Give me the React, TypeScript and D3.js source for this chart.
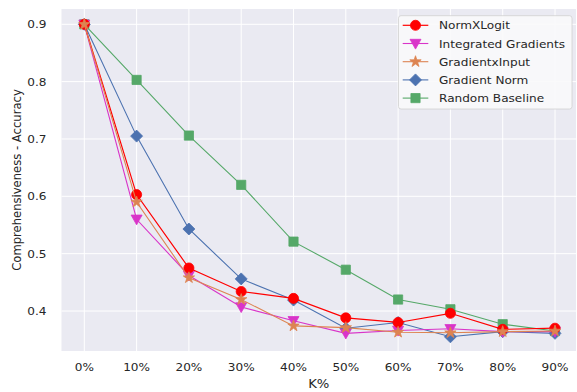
import React from "react";
import * as d3 from "d3";

const kLabels = ["0%", "10%", "20%", "30%", "40%", "50%", "60%", "70%", "80%", "90%"];
const yTicks = [0.4, 0.5, 0.6, 0.7, 0.8, 0.9];

const normXLogit = [0.9, 0.603, 0.475, 0.434, 0.422, 0.388, 0.38, 0.396, 0.368, 0.37];
const integratedGradients = [0.9, 0.56, 0.462, 0.407, 0.383, 0.361, 0.366, 0.369, 0.364, 0.364];
const gradientXInput = [0.9, 0.59, 0.458, 0.42, 0.374, 0.371, 0.363, 0.362, 0.364, 0.365];
const gradientNorm = [0.9, 0.705, 0.543, 0.456, 0.419, 0.37, 0.38, 0.355, 0.364, 0.361];
const randomBaseline = [0.9, 0.803, 0.706, 0.62, 0.521, 0.472, 0.42, 0.403, 0.377, 0.365];

type Marker = "circle" | "triDown" | "star" | "diamond" | "square";
const series: { name: string; values: number[]; color: string; marker: Marker; lw: number }[] = [
  { name: "NormXLogit", values: normXLogit, color: "#ff0000", marker: "circle", lw: 1.2 },
  { name: "Integrated Gradients", values: integratedGradients, color: "#d935c9", marker: "triDown", lw: 1.1 },
  { name: "GradientxInput", values: gradientXInput, color: "#dd8452", marker: "star", lw: 1.1 },
  { name: "Gradient Norm", values: gradientNorm, color: "#4c72b0", marker: "diamond", lw: 1.1 },
  { name: "Random Baseline", values: randomBaseline, color: "#55a868", marker: "square", lw: 1.1 },
];
const drawOrder = [4, 3, 1, 0, 2];

const W = 577, H = 392;
const plot = { left: 61.5, right: 576, top: 9, bottom: 351 };
const x = d3.scaleLinear().domain([0, 9]).range([84.3, 555]);
const y = d3.scaleLinear().domain([0.4, 0.9]).range([311, 24.3]);

function markerPath(m: Marker): string {
  switch (m) {
    case "circle":
      return d3.symbol(d3.symbolCircle, 80)()!;
    case "square":
      return "M-4.6,-4.6L4.6,-4.6L4.6,4.6L-4.6,4.6Z";
    case "diamond":
      return "M0,-6L6,0L0,6L-6,0Z";
    case "triDown":
      return "M-5.5,-4.2L5.5,-4.2L0,5.6Z";
    case "star":
      return d3.symbol(d3.symbolStar, 40)()!;
  }
}

const font = "DejaVu Sans, sans-serif";
const textColor = "#262626";
const SX = 1.1;

function HText(props: { x: number; y: number; size: number; anchor?: "start" | "middle" | "end"; children: React.ReactNode }) {
  return (
    <g transform={`translate(${props.x},${props.y}) scale(${SX},1)`}>
      <text x={0} y={0} textAnchor={props.anchor || "start"} fontFamily={font} fontSize={props.size} fill={textColor}>
        {props.children}
      </text>
    </g>
  );
}

export default function App() {
  const line = d3.line<number>().x((_, i) => x(i)).y((v) => y(v));
  return (
    <svg width={W} height={H} style={{ position: "absolute", left: 0, top: 0 }}>
      <rect x={0} y={0} width={W} height={H} fill="#ffffff" />
      <rect x={plot.left} y={plot.top} width={plot.right - plot.left} height={plot.bottom - plot.top} fill="#eaeaf2" />
      <defs>
        <clipPath id="pc">
          <rect x={plot.left} y={plot.top} width={plot.right - plot.left} height={plot.bottom - plot.top} />
        </clipPath>
      </defs>
      {kLabels.map((_, i) => (
        <line key={"gx" + i} x1={x(i)} x2={x(i)} y1={plot.top} y2={plot.bottom} stroke="#ffffff" strokeWidth={1} />
      ))}
      {yTicks.map((t) => (
        <line key={"gy" + t} x1={plot.left} x2={plot.right} y1={y(t)} y2={y(t)} stroke="#ffffff" strokeWidth={1} />
      ))}
      <g clipPath="url(#pc)">
        {drawOrder.map((si) => {
          const s = series[si];
          return (
            <g key={s.name}>
              <path d={line(s.values)!} fill="none" stroke={s.color} strokeWidth={s.lw} />
              {s.values.map((v, i) => (
                <path key={i} d={markerPath(s.marker)} transform={`translate(${x(i)},${y(v)})`} fill={s.color} stroke={s.color} strokeWidth={0.8} />
              ))}
            </g>
          );
        })}
      </g>
      {kLabels.map((l, i) => (
        <HText key={"tx" + i} x={x(i)} y={370.5} size={11} anchor="middle">{l}</HText>
      ))}
      {yTicks.map((t) => (
        <HText key={"ty" + t} x={46.5} y={y(t) + 4} size={11} anchor="end">{t.toFixed(1)}</HText>
      ))}
      <HText x={(plot.left + plot.right) / 2} y={388} size={12} anchor="middle">K%</HText>
      <text transform={`translate(21,${(plot.top + plot.bottom) / 2}) rotate(-90)`} textAnchor="middle" fontFamily={font} fontSize={11.6} fill={textColor}>Comprehensiveness - Accuracy</text>
      <g>
        <rect x={398.5} y={15.7} width={173.5} height={93.3} rx={2.5} fill="#f9f9fb" fillOpacity={0.9} stroke="#d0d0d0" strokeWidth={0.8} />
        {series.map((s, i) => {
          const ry = 25.3 + i * 18.2;
          return (
            <g key={"lg" + i}>
              <line x1={402.7} x2={428.3} y1={ry} y2={ry} stroke={s.color} strokeWidth={s.lw} />
              <path d={markerPath(s.marker)} transform={`translate(415.5,${ry})`} fill={s.color} stroke={s.color} strokeWidth={0.8} />
              <HText x={439} y={ry + 4} size={11}>{s.name}</HText>
            </g>
          );
        })}
      </g>
    </svg>
  );
}
